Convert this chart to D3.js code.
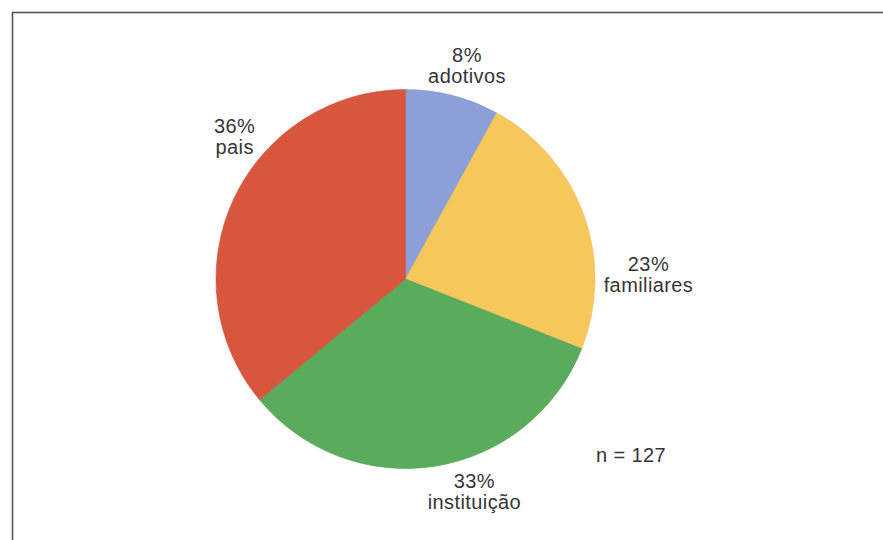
<!DOCTYPE html>
<html>
<head>
<meta charset="utf-8">
<script src="https://cdn.jsdelivr.net/npm/d3@7"></script>
<style>
  html, body { margin: 0; padding: 0; background: #fff; }
  svg { display: block; }
  text { font-family: "Liberation Sans", Arial, sans-serif; fill: #353538; letter-spacing: 0.4px; }
</style>
</head>
<body>
<svg id="chart" width="883" height="540"></svg>
<script>
// Distribution by caregiver type (percent of n = 127)
const categories = ["adotivos", "familiares", "instituição", "pais"];
const shares = [8, 23, 33, 36];
const sliceColors = ["#8c9fd8", "#f6c85c", "#5bab5c", "#d8553e"];
const sampleNote = "n = 127";

const svg = d3.select("#chart");

// chart frame
svg.append("rect")
  .attr("x", 12.5).attr("y", 12.5)
  .attr("width", 880).attr("height", 540)
  .attr("fill", "none")
  .attr("stroke", "#4f5563")
  .attr("stroke-width", 1.6);

const cx = 405.5, cy = 279, radius = 189.5;

const data = categories.map((c, i) => ({ name: c, value: shares[i], color: sliceColors[i] }));

const pie = d3.pie().value(d => d.value).sort(null);
const arc = d3.arc().innerRadius(0).outerRadius(radius);
const arcs = pie(data);

const g = svg.append("g").attr("transform", `translate(${cx},${cy})`);

g.selectAll("path")
  .data(arcs)
  .join("path")
  .attr("d", arc)
  .attr("fill", d => d.data.color)
  .attr("stroke", d => d3.color(d.data.color).darker(0.15))
  .attr("stroke-width", 0.6);

// label placement: distance from centre and a small angular nudge (degrees)
// away from each slice's mid-angle
const labelLayout = {
  "adotivos":    { r: 223, nudge: 1.6 },
  "familiares":  { r: 243, nudge: 18.6 },
  "instituição": { r: 223, nudge: -9.0 },
  "pais":        { r: 223, nudge: 14.8 }
};

const labels = g.selectAll("g.lbl")
  .data(arcs)
  .join("g")
  .attr("class", "lbl")
  .attr("transform", d => {
    const L = labelLayout[d.data.name];
    const a = (d.startAngle + d.endAngle) / 2 + L.nudge * Math.PI / 180;
    return `translate(${Math.sin(a) * L.r},${-Math.cos(a) * L.r})`;
  });

labels.append("text")
  .attr("text-anchor", "middle")
  .attr("y", -3)
  .attr("font-size", 20)
  .text(d => d.data.value + "%");

labels.append("text")
  .attr("text-anchor", "middle")
  .attr("y", 18)
  .attr("font-size", 20)
  .text(d => d.data.name);

svg.append("text")
  .attr("x", 596).attr("y", 462)
  .attr("font-size", 20)
  .text(sampleNote);
</script>
</body>
</html>
